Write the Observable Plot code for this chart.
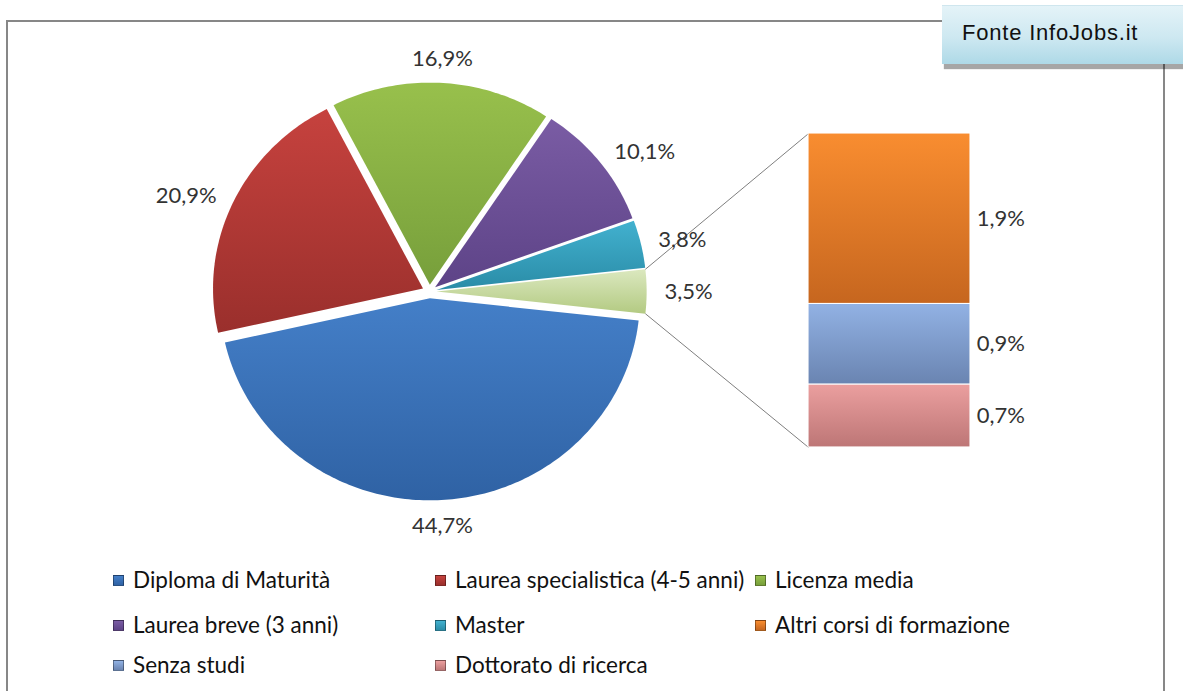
<!DOCTYPE html>
<html><head><meta charset="utf-8">
<script src="https://cdn.jsdelivr.net/npm/d3@7"></script>
<script src="https://cdn.jsdelivr.net/npm/@observablehq/plot@0.6"></script>
<style>
body{margin:0;background:#fff;}
#wrap{position:relative;width:1183px;height:691px;overflow:hidden;font-family:Lato,"Open Sans",sans-serif;}
#frame{position:absolute;left:6px;top:20px;width:1155px;height:720px;border:2px solid #878787;}
#chart{position:absolute;left:0;top:0;}
#source{position:absolute;left:942px;top:5px;width:260px;height:58px;
  background:linear-gradient(to bottom,#e4f3f8 0%,#cde8f1 55%,#aed9e7 100%);
  box-shadow:2px 5px 1px rgba(0,0,0,0.35);border-top:1px solid #cfe6ee;}
#source span{position:absolute;left:20px;top:14px;font-family:"Liberation Sans",Arial,sans-serif;font-size:22px;letter-spacing:0.8px;color:#111;}
#legend{position:absolute;left:0;top:550px;width:1183px;height:141px;}
.item{position:absolute;font-size:22.5px;color:#111;white-space:nowrap;line-height:26px;}
.sw{position:absolute;left:-20px;top:8px;width:11px;height:11px;box-sizing:border-box;border:1px solid rgba(0,0,0,0.35);}
</style>
</head><body>
<div id="wrap">
  <div id="frame"></div>
  <div id="chart"></div>
  <div id="source"><span>Fonte InfoJobs.it</span></div>
  <div id="legend"></div>
</div>
<script>
// ---- data ----
const pieCategories = ["Diploma di Maturità","Laurea specialistica (4-5 anni)","Licenza media","Laurea breve (3 anni)","Master"];
const pieValues = [44.7, 20.9, 16.9, 10.1, 3.8];
const otherValue = 3.5;
const barCategories = ["Altri corsi di formazione","Senza studi","Dottorato di ricerca"];
const barValues = [1.9, 0.9, 0.7];
const pieColors = [["#447fc8","#2f62a4"],["#c6423e","#9a2f2c"],["#98c04c","#779f3b"],["#7a5ca4","#5d4387"],["#42b1cf","#2a8ca7"]];
const otherColor = ["#dbe8bf","#b3ca82"];
const barColors = [["#f98d30","#c6661f"],["#92b2e4","#6a84b1"],["#eb9f9f","#bd7676"]];
const legendOrder = pieCategories.concat(barCategories);

function fmt(v){ return v.toFixed(1).replace(".", ",") + "%"; }

// ---- geometry (unit-radius pie space; x and y scales give the ellipse) ----
const total = d3.sum(pieValues) + otherValue;
const explode = 0.034;
const slices = pieValues.map((v,i)=>({name:pieCategories[i], value:v, grad:"g"+i, colors:pieColors[i]}))
  .concat([{name:"Altro", value:otherValue, grad:"gother", colors:otherColor}]);
let ang = otherValue / total * Math.PI;
slices.forEach(s => { s.a0 = ang; s.a1 = ang + s.value / total * 2 * Math.PI; ang = s.a1; s.mid = (s.a0+s.a1)/2; });
slices.forEach(s => {
  const ox = explode*Math.cos(s.mid), oy = -explode*Math.sin(s.mid);
  s.ox = ox; s.oy = oy;
  const pts = [{x:ox, y:oy}];
  const n = Math.max(4, Math.ceil((s.a1-s.a0)/(Math.PI/180)));
  for (let k=0;k<=n;k++){ const t = s.a0 + (s.a1-s.a0)*k/n; pts.push({x:ox+Math.cos(t), y:oy-Math.sin(t)}); }
  pts.push({x:ox, y:oy});
  s.pts = pts;
});
const other = slices[slices.length-1];

// bar of the "other" slice
const barX1 = 1.805, barX2 = 2.576, barTop = 0.782, barBottom = -0.772;
const barK = (barTop - barBottom) / d3.sum(barValues);
let cum = 0;
const barData = barValues.map((v,i)=>{ const d = {name:barCategories[i], value:v, grad:"b"+i, y1: barTop - cum*barK, y2: barTop - (cum+v)*barK}; cum += v; return d; });

const links = [
  {x1: other.ox + Math.cos(other.a0), y1: other.oy - Math.sin(other.a0), x2: barX1, y2: barTop},
  {x1: other.ox + Math.cos(other.a1), y1: other.oy - Math.sin(other.a1), x2: barX1, y2: barBottom}
];

const labR = 1.085;
const pieLabels = slices.map(s => {
  const c = Math.cos(s.mid), sn = Math.sin(s.mid);
  return {text: fmt(s.value), x: s.ox + c*labR, y: s.oy - sn*labR,
    textAnchor: c < -0.3 ? "end" : c > 0.3 ? "start" : "middle",
    lineAnchor: sn < -0.7 ? "bottom" : sn > 0.7 ? "top" : "middle"};
});

const cx = 429, cy = 291, rx = 210, ry = 202, W = 1183, H = 550;

const marks = [];
slices.forEach(s => marks.push(Plot.line(s.pts, {x:"x", y:"y", fill:`url(#${s.grad})`, stroke:"none"})));
marks.push(Plot.link(links, {x1:"x1", y1:"y1", x2:"x2", y2:"y2", stroke:"#7f7f7f", strokeWidth:1}));
marks.push(Plot.rect(barData, {x1:()=>barX1, x2:()=>barX2, y1:"y1", y2:"y2", fill:d=>`url(#${d.grad})`, stroke:"#ffffff", strokeWidth:1}));
pieLabels.forEach(l => marks.push(Plot.text([l], {x:"x", y:"y", text:"text", textAnchor:l.textAnchor, lineAnchor:l.lineAnchor, fontSize:22, fill:"#333"})));
marks.push(Plot.text(barData, {x:()=>barX2 + 0.03, y:d=>(d.y1+d.y2)/2, text:d=>fmt(d.value), textAnchor:"start", fontSize:22, fill:"#333"}));

const svg = Plot.plot({
  width: W, height: H, margin: 0,
  style: {fontFamily: "Lato, 'Open Sans', sans-serif", background: "transparent", overflow: "visible"},
  x: {domain: [-cx/rx, (W-cx)/rx], axis: null},
  y: {domain: [-(H-cy)/ry, cy/ry], axis: null},
  marks
});

// gradients
const defs = d3.select(svg).insert("defs", ":first-child");
function grad(id, c){
  const g = defs.append("linearGradient").attr("id", id).attr("x1",0).attr("y1",0).attr("x2",0).attr("y2",1);
  g.append("stop").attr("offset","0%").attr("stop-color", c[0]);
  g.append("stop").attr("offset","100%").attr("stop-color", c[1]);
}
slices.forEach(s => grad(s.grad, s.colors));
barData.forEach((d,i) => grad(d.grad, barColors[i]));
document.getElementById("chart").appendChild(svg);

// legend
const legendColors = pieColors.concat(barColors);
const colX = [133, 455, 775], rowY = [30, 75, 115];
const leg = document.getElementById("legend");
legendOrder.forEach((name, i) => {
  const el = document.createElement("div");
  el.className = "item";
  el.style.left = colX[i%3] + "px";
  el.style.top = (rowY[Math.floor(i/3)] - 13) + "px";
  const sw = document.createElement("span");
  sw.className = "sw";
  sw.style.background = `linear-gradient(${legendColors[i][0]}, ${legendColors[i][1]})`;
  el.appendChild(sw);
  el.appendChild(document.createTextNode(name));
  leg.appendChild(el);
});
</script>
</body></html>
